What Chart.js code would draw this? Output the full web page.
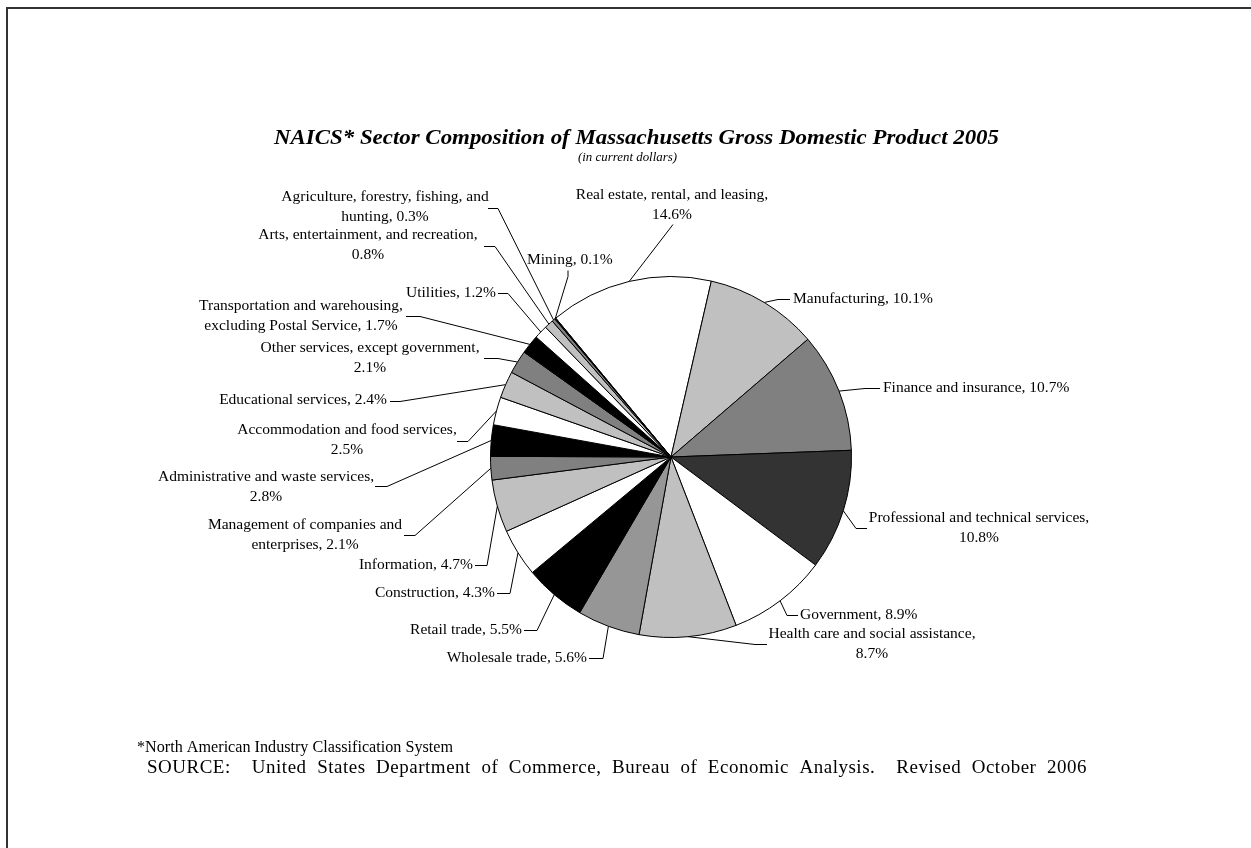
<!DOCTYPE html>
<html lang="en">
<head>
<meta charset="UTF-8">
<title>Massachusetts GDP by NAICS sector, 2005</title>
<style>
  html, body { margin: 0; padding: 0; background: #fff; }
  canvas { display: block; }
</style>
</head>
<body>
<canvas id="pie" width="1251" height="848"></canvas>
<script src="https://cdn.jsdelivr.net/npm/chart.js"></script>
<script>
// slices in clockwise order, starting with Real estate
const sectors = [
  'Real estate, rental, and leasing',
  'Manufacturing',
  'Finance and insurance',
  'Professional and technical services',
  'Government',
  'Health care and social assistance',
  'Wholesale trade',
  'Retail trade',
  'Construction',
  'Information',
  'Management of companies and enterprises',
  'Administrative and waste services',
  'Accommodation and food services',
  'Educational services',
  'Other services, except government',
  'Transportation and warehousing, excluding Postal Service',
  'Utilities',
  'Arts, entertainment, and recreation',
  'Agriculture, forestry, fishing, and hunting',
  'Mining'
];
const shares = [14.6, 10.1, 10.7, 10.8, 8.9, 8.7, 5.6, 5.5, 4.3, 4.7,
                2.1, 2.8, 2.5, 2.4, 2.1, 1.7, 1.2, 0.8, 0.3, 0.1];
const sliceColors = ['#ffffff', '#c0c0c0', '#808080', '#333333', '#ffffff', '#c0c0c0',
                     '#969696', '#000000', '#ffffff', '#c0c0c0', '#808080', '#000000',
                     '#ffffff', '#c0c0c0', '#808080', '#000000', '#ffffff', '#c0c0c0',
                     '#808080', '#000000'];

// where each data label sits: text anchor, words on first line, leader stub points
const labelLayout = [
  {x: 672, y: 195, align: 'center', cut: 5, stub: [[673, 224]]},
  {x: 793, y: 299, align: 'left', stub: [[790, 299], [778, 299]]},
  {x: 883, y: 388, align: 'left', stub: [[880, 388], [865, 388]]},
  {x: 979, y: 518, align: 'center', cut: 4, stub: [[867, 528], [856, 528]]},
  {x: 800, y: 615, align: 'left', stub: [[798, 615], [787, 615]]},
  {x: 872, y: 634, align: 'center', cut: 5, stub: [[767, 644], [755, 644]]},
  {x: 587, y: 658, align: 'right', stub: [[589, 658], [603, 658]]},
  {x: 522, y: 630, align: 'right', stub: [[524, 630], [537, 630]]},
  {x: 495, y: 593, align: 'right', stub: [[497, 593], [510, 593]]},
  {x: 473, y: 565, align: 'right', stub: [[475, 565], [487, 565]]},
  {x: 305, y: 525, align: 'center', cut: 4, stub: [[404, 535], [415, 535]]},
  {x: 266, y: 477, align: 'center', cut: 4, stub: [[375, 486], [387, 486]]},
  {x: 347, y: 430, align: 'center', cut: 4, stub: [[457, 441], [468, 441]]},
  {x: 387, y: 400, align: 'right', stub: [[390, 401], [400, 401]]},
  {x: 370, y: 348, align: 'center', cut: 4, stub: [[484, 358], [498, 358]]},
  {x: 301, y: 306, align: 'center', cut: 3, stub: [[406, 316], [420, 316]]},
  {x: 496, y: 293, align: 'right', stub: [[498, 293], [508, 293]]},
  {x: 368, y: 235, align: 'center', cut: 4, stub: [[484, 246], [495, 246]]},
  {x: 385, y: 197, align: 'center', cut: 4, stub: [[488, 208], [498, 208]]},
  {x: 527, y: 260, align: 'left', stub: [[568, 270], [568, 276]]}
];

const serif = '"Liberation Serif", "Times New Roman", serif';

// draw text squeezed/stretched to a given width
function fitText(ctx, text, x, y, width, font, letterGap, wordGap) {
  ctx.save();
  ctx.font = font;
  if (letterGap) ctx.letterSpacing = letterGap;
  if (wordGap) ctx.wordSpacing = wordGap;
  const w = ctx.measureText(text).width;
  ctx.translate(x, y);
  ctx.scale(width / w, 1);
  ctx.textAlign = 'left';
  ctx.textBaseline = 'middle';
  ctx.fillText(text, 0, 0);
  ctx.restore();
}

const decorations = {
  id: 'decorations',
  afterDraw(chart) {
    const ctx = chart.ctx;
    ctx.save();
    ctx.fillStyle = '#000';

    // frame (only top and left edges are visible)
    ctx.strokeStyle = '#333';
    ctx.lineWidth = 2;
    ctx.beginPath();
    ctx.moveTo(7, 848);
    ctx.lineTo(7, 8);
    ctx.lineTo(1251, 8);
    ctx.stroke();

    // title block
    fitText(ctx, 'NAICS* Sector Composition of Massachusetts Gross Domestic Product 2005',
            274, 138, 725, 'italic bold 22px ' + serif);
    fitText(ctx, '(in current dollars)', 578, 158, 99, 'italic 13px ' + serif);

    // data labels with leader lines
    const arcs = chart.getDatasetMeta(0).data;
    ctx.font = '15.5px ' + serif;
    ctx.textBaseline = 'middle';
    ctx.strokeStyle = '#000';
    ctx.lineWidth = 1;
    arcs.forEach((arc, i) => {
      const lay = labelLayout[i];
      const text = sectors[i] + ', ' + shares[i].toFixed(1) + '%';
      let lines = [text];
      if (lay.cut) {
        const words = text.split(' ');
        lines = [words.slice(0, lay.cut).join(' '), words.slice(lay.cut).join(' ')];
      }
      ctx.textAlign = lay.align;
      lines.forEach((ln, k) => ctx.fillText(ln, lay.x, lay.y + k * 20));

      const p = arc.getProps(['x', 'y', 'startAngle', 'endAngle', 'outerRadius'], true);
      const mid = (p.startAngle + p.endAngle) / 2;
      const ex = p.x + Math.cos(mid) * p.outerRadius;
      const ey = p.y + Math.sin(mid) * p.outerRadius;
      ctx.beginPath();
      lay.stub.forEach((pt, k) => {
        if (k === 0) ctx.moveTo(pt[0], pt[1] + 0.5);
        else ctx.lineTo(pt[0], pt[1] + 0.5);
      });
      ctx.lineTo(ex, ey);
      ctx.stroke();
    });

    // footnotes
    fitText(ctx, '*North American Industry Classification System', 137, 748, 316, '16.5px ' + serif);
    fitText(ctx, 'SOURCE:  United States Department of Commerce, Bureau of Economic Analysis.  Revised October 2006',
            147, 768, 940, '18px ' + serif, '0.5px', '5px');
    ctx.restore();
  }
};

new Chart(document.getElementById('pie'), {
  type: 'pie',
  data: {
    labels: sectors,
    datasets: [{
      data: shares,
      backgroundColor: sliceColors,
      borderColor: '#000',
      borderWidth: 1
    }]
  },
  options: {
    responsive: false,
    animation: false,
    rotation: -39.7,
    layout: {padding: {top: 276, bottom: 210, left: 490, right: 399}},
    plugins: {
      legend: {display: false},
      tooltip: {enabled: false}
    }
  },
  plugins: [decorations]
});
</script>
</body>
</html>
